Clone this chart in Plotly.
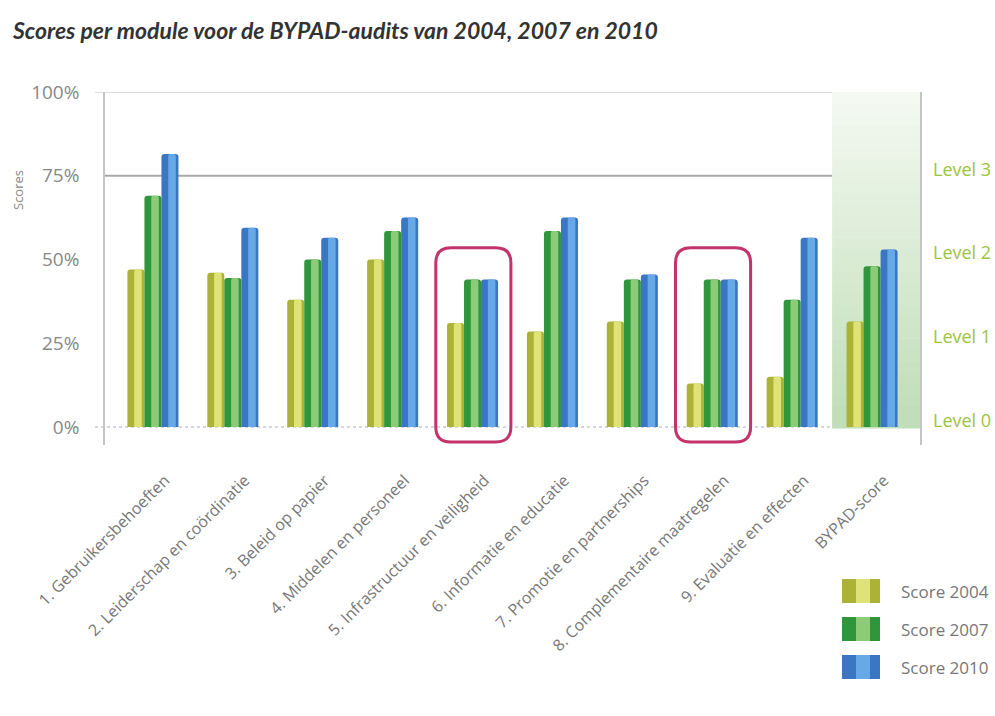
import plotly.graph_objects as go

categories = ["1. Gebruikersbehoeften", "2. Leiderschap en coördinatie", "3. Beleid op papier",
              "4. Middelen en personeel", "5. Infrastructuur en veiligheid", "6. Informatie en educatie",
              "7. Promotie en partnerships", "8. Complementaire maatregelen", "9. Evaluatie en effecten",
              "BYPAD-score"]
score_2004 = [47, 46, 38, 50, 31, 28.5, 31.5, 13, 15, 31.5]
score_2007 = [69, 44.5, 50, 58.5, 44, 58.5, 44, 44, 38, 48]
score_2010 = [81.5, 59.5, 56.5, 62.5, 44, 62.5, 45.5, 44, 56.5, 53]
series_names = ["Score 2004", "Score 2007", "Score 2010"]
y_ticks = [0, 25, 50, 75, 100]
y_ticktext = ["0%", "25%", "50%", "75%", "100%"]
level_values = [0, 25, 50, 75]
level_labels = ["Level 0", "Level 1", "Level 2", "Level 3"]
highlighted = [4, 7]

base_colors = ["#acb236", "#2f963c", "#3a76c2"]
light_colors = ["#dfe276", "#8ccb78", "#66a9e6"]

W, H = 995, 716
ML, MR, MT, MB = 105, 75, 92, 271
PW, PH = W - ML - MR, H - MT - MB
XR = [-0.6, 9.6]
YR = [-5.4, 100]

def px_x(px):
    return (px - ML) / PW

def px_y(py):
    return (H - MB - py) / PH

x = list(range(len(categories)))
fig = go.Figure()
bw = 0.213
series = [score_2004, score_2007, score_2010]
for i, vals in enumerate(series):
    off = -1.5 * bw + i * bw
    fig.add_trace(go.Bar(x=x, y=vals, offset=off, width=bw, name=series_names[i],
                         marker=dict(color=base_colors[i], line=dict(width=0), cornerradius=3),
                         showlegend=False))
    fig.add_trace(go.Bar(x=x, y=vals, offset=off + 0.085, width=0.095, name=series_names[i],
                         marker=dict(color=light_colors[i], line=dict(width=0), cornerradius=2),
                         showlegend=False, hoverinfo="skip"))

shapes = []
# green gradient background for BYPAD-score
n = 30
c_top = (244, 249, 241)
c_bot = (192, 222, 184)
for k in range(n):
    t = k / (n - 1)
    col = tuple(int(c_bot[j] + (c_top[j] - c_bot[j]) * t) for j in range(3))
    shapes.append(dict(type="rect", xref="x", yref="y", x0=8.5, x1=XR[1],
                       y0=-0.5 + 100.5 * k / n, y1=-0.5 + 100.5 * (k + 1) / n + 0.2,
                       fillcolor="rgb(%d,%d,%d)" % col, line=dict(width=0), layer="below"))
# top line at 100%
shapes.append(dict(type="line", xref="paper", yref="y", x0=px_x(95), x1=1, y0=100, y1=100,
                   line=dict(color="#d0d0d0", width=1.5), layer="below"))
# level 3 line at 75%
shapes.append(dict(type="line", xref="paper", yref="y", x0=0, x1=1, y0=75, y1=75,
                   line=dict(color="#a8a8a8", width=2), layer="below"))
# dotted baseline
shapes.append(dict(type="line", xref="paper", yref="y", x0=px_x(95), x1=1, y0=0, y1=0,
                   line=dict(color="#c4cad8", width=1.5, dash="dot"), layer="below"))

# highlight rounded boxes
rx, ry = 0.19, 4.5
for idx in highlighted:
    top = max(score_2004[idx], score_2007[idx], score_2010[idx]) + 9.5
    bot = -4.5
    x0, x1 = idx - 0.46, idx + 0.48
    p = (f"M {x0+rx},{bot} L {x1-rx},{bot} Q {x1},{bot} {x1},{bot+ry} "
         f"L {x1},{top-ry} Q {x1},{top} {x1-rx},{top} L {x0+rx},{top} "
         f"Q {x0},{top} {x0},{top-ry} L {x0},{bot+ry} Q {x0},{bot} {x0+rx},{bot} Z")
    shapes.append(dict(type="path", xref="x", yref="y", path=p,
                       line=dict(color="#c4336c", width=3), layer="above"))

# custom legend swatches
annotations = []
leg_rows = [591, 629, 667]
for i, name in enumerate(series_names):
    yc = leg_rows[i]
    shapes.append(dict(type="rect", xref="paper", yref="paper", x0=px_x(842), x1=px_x(880),
                       y0=px_y(yc + 12), y1=px_y(yc - 12), fillcolor=base_colors[i],
                       line=dict(width=0)))
    shapes.append(dict(type="rect", xref="paper", yref="paper", x0=px_x(856), x1=px_x(870),
                       y0=px_y(yc + 12), y1=px_y(yc - 12), fillcolor=light_colors[i],
                       line=dict(width=0)))
    annotations.append(dict(xref="paper", yref="paper", x=px_x(899), y=px_y(yc), text=name,
                            showarrow=False, xanchor="left", yanchor="middle",
                            font=dict(family="Open Sans", size=17, color="#777")))

for v, lab in zip(level_values, level_labels):
    annotations.append(dict(xref="paper", yref="y", x=px_x(931), y=v, yshift=7, text=lab,
                            showarrow=False, xanchor="left", yanchor="middle",
                            font=dict(family="Open Sans", size=18, color="#9cc43e")))

annotations.append(dict(xref="paper", yref="paper", x=px_x(18), y=px_y(190), text="Scores",
                        textangle=-90, showarrow=False, xanchor="center", yanchor="middle",
                        font=dict(family="Open Sans", size=13, color="#888")))

annotations.append(dict(xref="paper", yref="paper", x=px_x(10), y=px_y(30),
                        text="<b><i>Scores per module voor de BYPAD-audits van 2004, 2007 en 2010</i></b>",
                        showarrow=False, xanchor="left", yanchor="middle",
                        font=dict(family="Lato", size=23, color="#333")))

fig.update_layout(
    width=W, height=H, margin=dict(l=ML, r=MR, t=MT, b=MB),
    paper_bgcolor="white", plot_bgcolor="white", barmode="overlay",
    shapes=shapes, annotations=annotations, showlegend=False,
    xaxis=dict(range=XR, tickmode="array", tickvals=x, ticktext=categories, tickangle=-45,
               showgrid=False, zeroline=False, showline=False, ticks="",
               tickfont=dict(family="Open Sans", size=16, color="#777"),
               ticklabelshift=12, ticklabelstandoff=22),
    yaxis=dict(range=YR, tickmode="array", tickvals=y_ticks, ticktext=y_ticktext,
               showgrid=False, zeroline=False, showline=True, mirror=True,
               linecolor="#c4c4c4", linewidth=1.5, ticks="",
               tickfont=dict(family="Open Sans", size=19, color="#888"),
               ticklabelstandoff=20),
)

fig.write_html("out.html")
